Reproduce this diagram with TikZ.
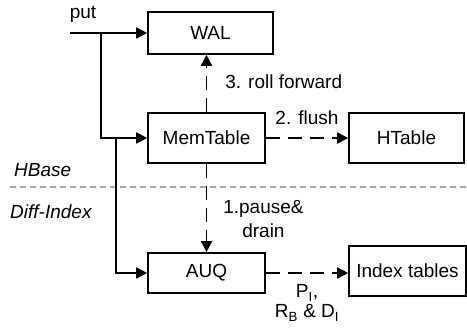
\documentclass[tikz,border=0pt]{standalone}
\usepackage{fontspec}
\setmainfont{Liberation Sans}
\usepackage{tikz}
\usetikzlibrary{arrows.meta,positioning,calc}

\tikzset{
  blk/.style={draw,line width=1.6pt,inner sep=0pt,font=\fontsize{19}{21}\selectfont},
  lbl/.style={font=\fontsize{19}{24}\selectfont,inner sep=0pt,align=center},
  lay/.style={font=\fontsize{19}{22}\selectfont\itshape,inner sep=0pt},
  flow/.style={line width=1.6pt,-{Triangle[length=11pt,width=11pt]}},
  dflow/.style={flow,dash pattern=on 14pt off 8pt}
}

\begin{document}
\begin{tikzpicture}[x=1pt,y=-1pt]
  \useasboundingbox (0,0) rectangle (467,335);
  % Kaesten
  \node[blk,minimum width=125pt,minimum height=42pt] (wal) at (210.5,33) {WAL};
  \node[blk,minimum width=117pt,minimum height=50pt] (mem) at (206.5,138) {MemTable};
  \node[blk,minimum width=115pt,minimum height=50pt] (htab) at (406.5,138) {HTable};
  \node[blk,minimum width=117pt,minimum height=40pt] (auq) at (206.5,273) {AUQ};
  \node[blk,minimum width=117pt,minimum height=50pt] (idx) at (407.5,271) {Index tables};
  % Trennlinie
  \coordinate (sepl) at (10,187);
  \coordinate (sepr) at (467,187);
  \draw[gray!70,line width=1.2pt,dash pattern=on 6pt off 4pt] (sepl) -- (sepr);
  \node[lay,anchor=west] (hb) at (14,170) {HBase};
  \node[lay,anchor=west] (di) at (10,212) {Diff-Index};
  % put
  \node[lbl] (put) at (83,14) {put};
  \coordinate (p0) at (70,33);
  \coordinate (j1) at (101,33);
  \coordinate (j2) at (116,138);
  \draw[flow] (p0) -- (wal.west);
  \draw[flow] (j1) |- (mem.west);
  \draw[flow] (j2) |- (auq.west);
  % Schritte
  \draw[dflow] (mem.north) -- (mem.north |- wal.south)
    node[lbl,anchor=west,pos=0.53,xshift=18pt] (s3) {3. roll forward};
  \draw[dflow] (mem.east) -- (htab.west)
    node[lbl,midway,yshift=20pt] (s2) {2. flush};
  \draw[dflow] (mem.south) -- (auq.north)
    node[lbl,anchor=west,pos=0.63,xshift=16pt] (s1) {1.pause\&\\drain};
  \draw[dflow] (auq.east) -- (idx.west |- auq.east)
    node[lbl,font=\fontsize{19}{20}\selectfont,midway,yshift=-30pt] (s4) {P\textsubscript{I},\\R\textsubscript{B} \& D\textsubscript{I}};
\end{tikzpicture}
\end{document}
